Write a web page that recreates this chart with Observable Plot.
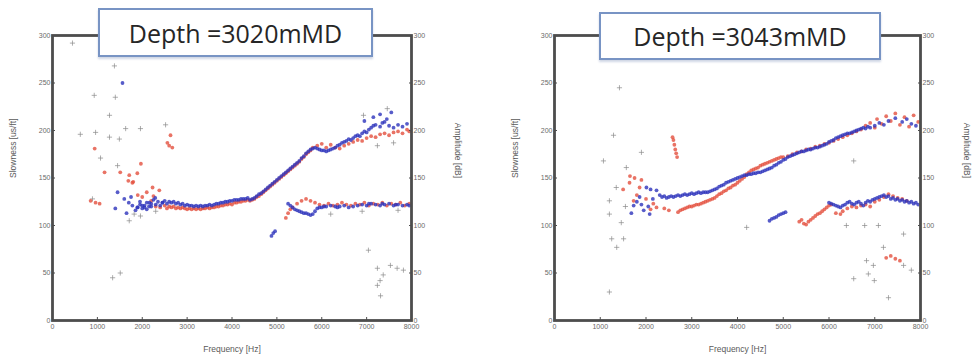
<!DOCTYPE html>
<html><head><meta charset="utf-8">
<script src="https://cdn.jsdelivr.net/npm/d3@7"></script>
<script src="https://cdn.jsdelivr.net/npm/@observablehq/plot@0.6"></script>
<style>
body{margin:0;background:#fff;}
#wrap{position:relative;width:972px;height:360px;overflow:hidden;background:#fff;}
.panel{position:absolute;top:0;}
.title{position:absolute;background:#fff;border:2px solid #7894c4;box-sizing:border-box;font-family:"Open Sans",sans-serif;font-size:25px;color:#262626;display:flex;align-items:center;justify-content:center;z-index:2;box-shadow:0 2px 2px rgba(120,140,180,0.35);}
</style></head><body><div id="wrap"></div>
<script>
const xTicks = [0,1000,2000,3000,4000,5000,6000,7000,8000];
const yTicks = [0,50,100,150,200,250,300];
const titles = ["Depth =3020mMD","Depth =3043mMD"];
const xLabel = "Frequency [Hz]";
const yLabel = "Slowness [us/ft]";
const y2Label = "Amplitude [dB]";

// ---------- Panel 1 (3020 mMD): [frequency Hz, slowness us/ft] ----------
const p1Blue = [
[1560,250],[1450,135],[1600,128],[1700,124],[1780,121],[1850,116],[1890,119],[2050,119],[2160,124],[2290,129],[2450,124],[1400,118],[1650,113],[1750,130],[1950,125],[2000,121],[2100,117],[2200,120],
[1900,119],[1950,122],[2000,118],[2050,121],[2100,124],[2150,120],[2200,123],[2250,127],[2300,122],[2350,125],[2400,121],[2450,124],[2500,126],[2550,123],[2600,125],[2650,124],[2700,125],[2750,123],[2800,124],[2850,122],[2900,123],[2950,121],[3000,122],[3050,121],[3100,121],[3150,120],[3200,121],[3250,120],[3300,121],[3350,120],[3400,121],[3450,121],[3500,122],[3550,121],[3600,122],[3650,123],[3700,123],[3750,124],[3800,124],[3850,125],[3900,125],[3950,126],[4000,126],[4050,127],[4100,127],[4150,127],[4200,128],[4250,128],[4300,128],[4350,129],[4400,127],[4450,128],[4500,129],[4550,131],[4600,133],[4650,134],[4700,136],[4750,138],[4800,140],[4850,142],[4900,144],[4950,146],[5000,148],[5050,150],[5100,152],[5150,154],[5200,156],[5250,158],[5300,160],[5350,162],[5400,164],[5450,166],[5500,168],[5550,171],[5600,173],[5650,176],[5700,178],[5750,180],[5800,181],[5850,182],[5900,181],[5950,180],[6000,179],[6050,179],[6100,178],[6150,179],[6200,180],[6250,181],[6300,182],[6350,184],[6400,185],[6450,187],[6500,188],[6550,189],[6600,191],[6650,190],[6700,192],[6750,194],[6800,195],[6850,194],[6900,197],[6950,199],[7000,198],[7050,201],[7100,203],[7150,205],[7200,206],[7300,204],[7350,208],[7400,209],[7500,205],[7600,203],[7700,206],[7800,204],[7900,207],
[6950,210],[7150,214],[7300,217],[7450,212],[7550,219],
[4880,89],[4920,92],[4960,94],
[5250,123],[5300,121],[5350,119],[5400,117],[5450,116],[5500,115],[5550,114],[5600,113],[5650,113],[5700,112],[5750,111],[5800,112],[5850,115],[5900,118],[5950,119],[6000,119],[6050,120],[6100,120],[6200,121],[6300,120],[6350,119],[6400,120],[6500,121],[6600,119],[6700,120],[6800,121],[6900,122],[7000,121],[7050,123],[7100,123],[7200,122],[7300,121],[7350,123],[7400,122],[7500,123],[7600,121],[7650,122],[7700,122],[7800,121],[7900,122],[7950,121]
];
const p1Red = [
[1050,123],[850,126],[960,124],[1160,156],[940,181],[1510,156],[1710,153],[1780,145],[1890,155],[1970,165],[2230,140],[2380,137],[2560,187],[2600,184],[2630,195],[2670,182],[2000,130],[2100,135],[1900,132],[2200,126],[1690,147],[1800,146],[2250,131],
[2300,120],[2400,119],[2500,121],[2550,118],[2600,120],[2650,119],[2700,120],[2750,118],[2800,119],[2850,118],[2900,119],[2950,118],[3000,117],[3050,118],[3100,117],[3150,118],[3200,117],[3250,118],[3300,117],[3350,118],[3400,118],[3450,119],[3500,118],[3550,119],[3600,119],[3650,120],[3700,120],[3750,121],[3800,121],[3850,122],[3900,122],[3950,123],[4000,122],[4050,124],[4100,124],[4150,125],[4200,125],[4250,126],[4300,126],[4350,127],[4400,126],[4450,127],[4500,128],[4550,130],[4600,131],[4650,133],[4700,135],[4750,137],[4800,139],[4850,141],[4900,143],[4950,145],[5000,147],[5050,149],[5100,151],[5150,153],[5200,155],[5250,157],[5300,159],[5350,161],[5400,163],[5450,165],[5500,167],[5550,170],[5600,172],[5650,175],[5700,177],[5750,179],[5800,182],[5900,184],[6000,186],[6100,182],[6200,185],[6300,182],[6400,181],[6500,184],[6600,186],[6700,188],[6800,190],[6900,189],[7000,192],[7100,194],[7200,193],[7300,196],[7400,197],[7500,195],[7600,198],[7700,199],[7800,197],[7900,201],[7950,199],
[5200,108],[5250,113],[5300,117],[5350,119],[5450,123],[5550,126],[5650,128],[5750,126],[5850,124],[5950,122],[6050,121],[6150,123],[6250,121],[6350,122],[6450,124],[6550,122],[6650,121],[6750,123],[6850,122],[6950,124],[7050,121],[7150,123],[7250,122],[7350,124],[7450,121],[7550,123],[7650,122],[7750,124],[7850,121],[7950,123]
];
const p1Gray = [
[445,292],[930,237],[1400,235],[1270,216],[620,196],[960,198],[1270,193],[1490,191],[1630,202],[1960,202],[2520,206],[1070,171],[1450,163],[1710,105],[1960,110],[890,128],[1340,45],[1510,50],[1380,268],
[7040,74],[7240,55],[7370,48],[7300,42],[7240,37],[7310,26],[7530,58],[7680,55],[7820,53],[6930,216],[7460,223],[7600,187],[7240,184],[1820,112],[2300,115],[6200,112],[6900,115],[7700,116]
];

// ---------- Panel 2 (3043 mMD) ----------
const p2Blue = [
[1860,130],[1950,116],[2080,112],[1730,121],[2010,140],[2100,138],[2230,137],[1800,125],[2150,128],[2050,120],[1680,113],[1900,122],
[2300,132],[2350,130],[2400,131],[2450,129],[2500,130],[2550,131],[2600,130],[2650,131],[2700,132],[2750,131],[2800,132],[2850,133],[2900,132],[2950,133],[3000,134],[3050,133],[3100,134],[3150,135],[3200,134],[3250,135],[3300,135],[3350,135],[3400,136],[3450,137],[3500,138],[3550,139],[3600,141],[3650,142],[3700,143],[3750,145],[3800,146],[3850,147],[3900,148],[3950,149],[4000,150],[4050,151],[4100,152],[4150,153],[4200,153],[4250,154],[4300,154],[4350,155],[4400,155],[4450,156],[4500,156],[4550,157],[4600,158],[4650,159],[4700,160],[4750,161],[4800,163],[4850,164],[4900,166],[4950,167],[5000,169],[5050,170],[5100,172],[5150,173],[5200,174],[5250,175],[5300,176],[5350,177],[5400,178],[5450,178],[5500,179],[5550,180],[5600,180],[5650,181],[5700,182],[5750,182],[5800,183],[5850,184],[5900,185],[5950,186],[6000,188],[6050,189],[6100,190],[6150,192],[6200,193],[6250,194],[6300,195],[6350,196],[6400,197],[6450,197],[6500,198],[6550,199],[6600,200],[6650,201],[6700,202],[6750,203],[6800,202],[6850,204],[6900,203],[7000,205],[7100,208],[7200,206],[7300,210],[7450,213],[7600,209],[7700,212],[7800,207],[7900,205],
[4700,105],[4750,107],[4800,108],[4850,109],[4900,111],[4950,112],[5000,113],[5050,114],
[6000,124],[6050,123],[6100,122],[6150,121],[6200,120],[6250,119],[6300,121],[6350,122],[6400,124],[6450,125],[6500,123],[6550,122],[6600,124],[6650,125],[6700,123],[6750,121],[6800,124],[6850,126],[6900,125],[6950,127],[7000,128],[7050,129],[7100,130],[7150,131],[7200,132],[7250,130],[7300,131],[7350,128],[7400,129],[7450,127],[7500,128],[7550,126],[7600,127],[7650,125],[7700,126],[7750,124],[7800,125],[7850,123],[7900,124],[7950,122]
];
const p2Red = [
[1640,145],[1860,140],[1730,126],[2160,123],[2230,119],[2000,128],[2100,117],[1800,132],[1500,138],[2400,118],[2500,116],[1650,152],[1750,150],[1900,148],
[2580,193],[2600,190],[2620,185],[2640,180],[2660,176],[2680,172],
[2700,114],[2750,116],[2800,117],[2850,118],[2900,119],[2950,120],[3000,120],[3050,121],[3100,122],[3150,122],[3200,123],[3250,124],[3300,125],[3350,126],[3400,127],[3450,128],[3500,129],[3550,131],[3600,133],[3650,134],[3700,136],[3750,137],[3800,139],[3850,140],[3900,142],[3950,143],[4000,145],[4050,147],[4100,149],[4150,151],[4200,154],[4250,156],[4300,158],[4350,159],[4400,160],[4450,161],[4500,163],[4550,164],[4600,165],[4650,166],[4700,167],[4750,168],[4800,169],[4850,170],[4900,171],[4950,172],[5000,172],[5100,173],[5200,175],[5300,177],[5400,178],[5500,180],[5600,181],[5700,183],[5800,184],[5900,186],[6000,187],[6100,189],[6200,191],[6300,193],[6400,195],[6500,197],[6600,199],[6700,201],[6800,205],[6900,208],[7000,203],[7050,212],[7150,207],[7250,215],[7350,210],[7450,218],[7550,206],[7650,214],[7750,204],[7850,216],[7950,209],
[5350,104],[5400,106],[5450,102],[5500,101],[5550,104],[5600,106],[5650,108],[5700,110],[5750,112],[5800,113],[5850,115],[5900,117],[5950,119],[6000,121],[6050,122],[6150,113],[6250,112],[6300,115],[6400,118],[6500,120],[6600,119],[6700,121],[6800,122],[6900,120],[7000,125],[7100,127],[7200,130],[7300,133],[7400,131],[7500,129],[7600,128],[7700,126],
[7250,66],[7350,68],[7450,65],[7550,63]
];
const p2Gray = [
[1420,245],[1290,195],[1900,177],[1070,168],[1570,161],[6540,168],[1200,126],[1200,112],[1250,86],[1360,77],[1510,86],[1460,103],[1200,30],[4200,98],[6380,100],[6780,100],[7080,100],[7630,91],
[6540,44],[6820,63],[6860,49],[6970,58],[6990,42],[7190,77],[7300,24],[7630,58],[7800,53],[1350,140],[1550,120]
];

const RED = "#e4503e", BLUE = "#2d33bb", GRAY = "#8a8a8a", AXIS = "#4d4d4d";

function panel(blue, red, gray, width, ml, mr) {
  const fx = d => d[0], fy = d => d[1];
  return Plot.plot({
    width, height: 360,
    marginLeft: ml, marginRight: mr, marginTop: 35, marginBottom: 40,
    x: {domain: [0, 8000]},
    y: {domain: [0, 300]},
    style: {fontFamily: "Liberation Sans, sans-serif", fontSize: "7px", color: "#6a6a6a", background: "transparent", overflow: "visible"},
    marks: [
      Plot.dot(gray, {x: fx, y: fy, symbol: "plus", r: 1.8, stroke: GRAY, strokeWidth: 0.7}),
      Plot.dot(red, {x: fx, y: fy, r: 1.9, fill: RED, fillOpacity: 0.8}),
      Plot.dot(blue, {x: fx, y: fy, r: 1.9, fill: BLUE, fillOpacity: 0.8}),
      Plot.frame({stroke: AXIS, strokeWidth: 2.8}),
      Plot.axisX({ticks: xTicks, tickSize: -3, tickPadding: 7, tickFormat: d => String(d), label: null, stroke: AXIS}),
      Plot.axisY({ticks: yTicks, anchor: "left", tickSize: -3, tickPadding: 5, label: null, stroke: AXIS}),
      Plot.axisY({ticks: yTicks, anchor: "right", tickSize: -3, tickPadding: 5, label: null, stroke: AXIS}),
      Plot.text([xLabel], {frameAnchor: "bottom", dy: 31, fontSize: 8.5, fill: "#5a5a5a"}),
      Plot.text([yLabel], {frameAnchor: "left", rotate: -90, dx: -39, fontSize: 8.5, fill: "#5a5a5a"}),
      Plot.text([y2Label], {frameAnchor: "right", rotate: 90, dx: 46, fontSize: 8.5, fill: "#5a5a5a"})
    ]
  });
}

const wrap = document.getElementById("wrap");
const specs = [
  {blue: p1Blue, red: p1Red, gray: p1Gray, left: 0, width: 486, ml: 52, mr: 75, box: [98, 8, 275, 49]},
  {blue: p2Blue, red: p2Red, gray: p2Gray, left: 486, width: 486, ml: 68, mr: 52, box: [599, 12, 282, 48]}
];
specs.forEach((s, i) => {
  const div = document.createElement("div");
  div.className = "panel";
  div.style.left = s.left + "px";
  div.appendChild(panel(s.blue, s.red, s.gray, s.width, s.ml, s.mr));
  wrap.appendChild(div);
  const t = document.createElement("div");
  t.className = "title";
  t.textContent = titles[i];
  t.style.left = s.box[0] + "px";
  t.style.top = s.box[1] + "px";
  t.style.width = s.box[2] + "px";
  t.style.height = s.box[3] + "px";
  wrap.appendChild(t);
});
</script>
</body></html>
